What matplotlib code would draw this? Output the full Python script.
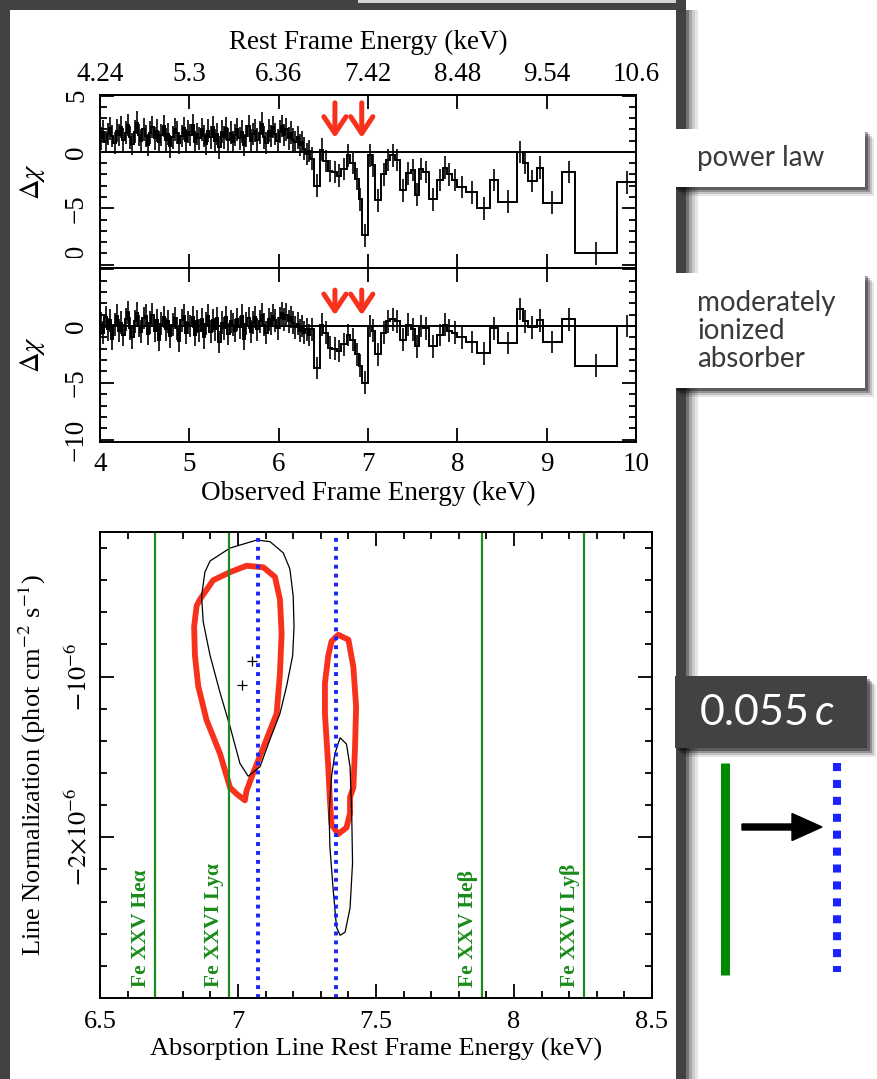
import numpy as np
import matplotlib.pyplot as plt
from matplotlib.patches import Rectangle
from matplotlib.lines import Line2D
from matplotlib.ticker import MultipleLocator
from matplotlib.transforms import Bbox, TransformedBbox

# ============================================================
# Daten
# ============================================================

# obere Achse: Ruhesystem-Energie an den beobachteten Energien 4..10 keV
OBS_TICKS = [4, 5, 6, 7, 8, 9, 10]
REST_TICK_LABELS = ["4.24", "5.3", "6.36", "7.42", "8.48", "9.54", "10.6"]

# feine Bins 4.0 - 6.35 keV (Residuen Delta chi)
DENSE_START, DENSE_END = 4.0, 6.35
PL_DENSE = [
    1.2, 1.8, 0.9, 1.6, 2.1, 1.4, 0.8, 1.9, 1.5, 2.2,
    1.1, 1.7, 2.4, 1.3, 0.7, 1.8, 2.6, 1.5, 1.0, 2.0,
    1.4, 0.6, 1.7, 2.2, 1.2, 1.9, 0.9, 1.5, 2.3, 1.1,
    1.6, 0.5, 1.3, 2.0, 1.7, 0.8, 1.4, 2.1, 1.0, 1.8,
    1.5, 2.4, 0.9, 1.6, 1.2, 2.0, 1.4, 0.7, 1.9, 1.3,
    2.2, 1.0, 1.6, 0.4, 1.8, 1.3, 2.1, 1.1, 1.7, 0.9,
    1.5, 2.0, 1.2, 1.8, 0.6, 1.4, 2.3, 1.0, 1.6, 1.9,
    1.1, 1.7, 2.5, 1.3, 0.8, 1.9, 1.4, 2.2, 1.6, 1.0,
    1.8, 2.3, 1.5, 2.0, 1.2, 1.7, 1.1, 0.9, 1.3, 0.6,
    0.9, 0.3, -0.2, 0.1,
]
MIA_DENSE = [
    0.2, -0.6, 0.8, -0.3, 0.5, -1.1, 0.1, 0.9, -0.4, 0.3,
    -0.8, 0.6, 1.2, -0.2, -1.0, 0.4, 1.1, 0.0, -0.5, 0.7,
    0.9, -0.7, 0.3, 1.0, -0.4, 0.5, -1.2, 0.2, 0.8, -0.3,
    0.4, -0.9, 0.1, 0.7, -0.2, -1.3, 0.5, 0.9, -0.6, 0.3,
    0.0, 0.8, -0.8, 0.4, -0.4, 0.6, -1.0, 0.2, 0.9, -0.5,
    0.5, -0.3, 0.7, -1.4, 0.3, -0.2, 0.8, -0.7, 0.4, 0.1,
    -0.4, 0.6, -0.1, 0.9, -1.1, 0.2, 0.7, -0.5, 0.3, 0.8,
    -0.3, 0.4, 1.0, 0.1, -0.6, 0.6, 0.2, 0.9, 0.5, -0.2,
    0.7, 1.1, 0.6, 1.0, 0.4, 0.8, 0.3, -0.1, 0.2, -0.4,
    0.0, -0.6, -0.3, -0.8,
]

# grobe Bins ab 6.35 keV
COARSE_EDGES = [6.35, 6.40, 6.46, 6.50, 6.55, 6.60, 6.65, 6.70, 6.76, 6.80,
                6.86, 6.90, 6.93, 7.00, 7.04, 7.08, 7.15, 7.20, 7.25, 7.30,
                7.36, 7.42, 7.48, 7.53, 7.57, 7.62, 7.68, 7.77, 7.84, 7.88,
                7.94, 8.00, 8.10, 8.22, 8.37, 8.46, 8.67, 8.73, 8.79, 8.89,
                8.96, 9.17, 9.32, 9.79, 10.0]
PL_COARSE = [-0.6, -3.0, 0.2, -0.8, -1.7, -1.8, -2.1, -1.5, -0.3, -1.0,
             -2.4, -4.2, -7.4, -0.3, -1.2, -4.3, -2.0, -0.7, -0.3, -0.7,
             -3.4, -1.9, -1.6, -3.8, -1.5, -1.8, -4.2, -2.5, -1.4, -2.0,
             -2.5, -3.1, -3.6, -5.0, -2.5, -4.4, 0.0, -1.0, -2.6, -1.4,
             -4.5, -1.8, -9.0, -2.7]
MIA_COARSE = [-0.3, -3.7, 0.1, -0.6, -1.9, -2.0, -2.2, -1.6, -0.8, -1.2,
              -2.5, -3.5, -5.0, 0.0, -0.4, -2.5, -0.6, 0.4, 0.6, 0.4,
              -1.2, 0.1, -0.3, -1.8, 0.0, -0.2, -1.8, -0.8, 0.1, -0.4,
              -0.6, -1.0, -1.4, -2.4, -0.2, -1.5, 1.5, 0.4, -0.1, 0.5,
              -1.4, 0.6, -3.5, 0.0]
DCHI_ERR = 1.0   # Delta chi -> Fehler ist per Definition 1

# rote Pfeile (beobachtete Energie), Spitze / Ende in Delta chi
ARROW_E = [6.63, 6.93]
ARROW_PL = (1.0, 4.6)
ARROW_MIA = (0.7, 3.4)

# unteres Panel: Linien-Normierung in Einheiten von 1e-6
LINE_E = [6.700, 6.966, 7.884, 8.253]
LINE_NAMES = ["Fe XXV Heα", "Fe XXVI Lyα", "Fe XXV Heβ", "Fe XXVI Lyβ"]
SHIFTED_E = [7.073, 7.356]

BLK1_E = [6.899, 6.971, 7.068, 7.116, 7.164, 7.188, 7.200, 7.203, 7.198, 7.176,
          7.152, 7.116, 7.080, 7.037, 7.007, 6.971, 6.935, 6.899, 6.874, 6.868, 6.880]
BLK1_N = [-0.28, -0.20, -0.15, -0.16, -0.23, -0.33, -0.50, -0.69, -0.87, -1.06,
          -1.23, -1.39, -1.56, -1.62, -1.54, -1.31, -1.10, -0.87, -0.66, -0.50, -0.35]

RED1_E = [6.862, 6.910, 6.971, 7.031, 7.092, 7.134, 7.152, 7.158, 7.152, 7.140,
          7.092, 7.055, 7.031, 7.025, 6.995, 6.971, 6.935, 6.886, 6.856, 6.844,
          6.841, 6.850]
RED1_N = [-0.52, -0.40, -0.35, -0.31, -0.32, -0.38, -0.52, -0.73, -0.98, -1.23,
          -1.44, -1.60, -1.71, -1.77, -1.73, -1.69, -1.48, -1.27, -1.06, -0.87,
          -0.69, -0.56]

RED2_E = [7.363, 7.400, 7.418, 7.428, 7.424, 7.418, 7.406, 7.406, 7.393, 7.363,
          7.339, 7.333, 7.327, 7.315, 7.315, 7.327, 7.339]
RED2_N = [-0.74, -0.77, -0.94, -1.19, -1.44, -1.69, -1.75, -1.85, -1.94, -1.98,
          -1.92, -1.77, -1.56, -1.23, -1.04, -0.87, -0.78]

BLK2_E = [7.370, 7.393, 7.406, 7.412, 7.415, 7.406, 7.388, 7.370, 7.357, 7.345,
          7.333, 7.330, 7.339, 7.351]
BLK2_N = [-1.38, -1.42, -1.56, -1.85, -2.16, -2.44, -2.59, -2.61, -2.56, -2.33,
          -2.06, -1.85, -1.62, -1.48]

BEST_E = [7.049, 7.015]
BEST_N = [-0.90, -1.05]

# ============================================================
# Stil
# ============================================================
W, H = 877, 1079
DPI = 100
plt.rcParams["font.family"] = ["Liberation Serif", "DejaVu Serif"]
plt.rcParams["mathtext.fontset"] = "stix"
plt.rcParams["axes.linewidth"] = 1.4

FS = 19.5      # obere Panels
FS3 = 19       # unteres Panel
RED = "#f8311c"
GREEN = "#1a8c1a"
BLUE = "#1a22ff"
DARK = "#424242"


def fig_rect(px0, py0, px1, py1):
    """Pixel (oben links) -> Figure-Koordinaten [l, b, w, h]."""
    return [px0 / W, 1 - py1 / H, (px1 - px0) / W, (py1 - py0) / H]


def style_ticks(ax, fs):
    ax.tick_params(which="both", direction="in", top=True, right=True,
                   width=1.3, labelsize=fs)
    ax.tick_params(which="major", length=10)
    ax.tick_params(which="minor", length=5)
    ax.tick_params(axis="x", which="major", pad=7)
    ax.tick_params(axis="y", which="major", pad=8)


def plot_resid(ax, dense, coarse):
    dense_edges = np.linspace(DENSE_START, DENSE_END, len(dense) + 1)
    edges = np.concatenate([dense_edges, COARSE_EDGES[1:]])
    vals = np.array(dense + coarse)
    centers = 0.5 * (edges[:-1] + edges[1:])
    ax.stairs(vals, edges, baseline=None, color="k", lw=1.4)
    ax.errorbar(centers, vals, yerr=DCHI_ERR, fmt="none", ecolor="k", elinewidth=1.2)
    ax.axhline(0, color="k", lw=1.4)


fig = plt.figure(figsize=(W / DPI, H / DPI), dpi=DPI)

# ---------------- Panel 1: power law ----------------
ax1 = fig.add_axes(fig_rect(100, 95, 636, 268))
plot_resid(ax1, PL_DENSE, PL_COARSE)
ax1.set_xlim(4, 10)
ax1.set_ylim(-10.3, 5.05)
ax1.set_xticks(OBS_TICKS)
ax1.set_yticks([-10, -5, 0, 5], labels=["−10", "−5", "0", "5"])
ax1.yaxis.set_minor_locator(MultipleLocator(1))
style_ticks(ax1, FS)
ax1.tick_params(labelbottom=False, top=False)
for lab in ax1.get_yticklabels():
    lab.set_rotation(90)
    lab.set_va("center")
ax1.set_ylabel(r"$\Delta\chi$", fontsize=FS + 1, labelpad=12)

# obere Achse: Ruhesystem
sec = ax1.secondary_xaxis("top")
sec.set_xticks(OBS_TICKS, labels=REST_TICK_LABELS)
sec.tick_params(direction="in", length=10, width=1.3, labelsize=FS, pad=6)
sec.set_xlabel("Rest Frame Energy (keV)", fontsize=FS, labelpad=9)

# ---------------- Panel 2: moderately ionized absorber ----------------
ax2 = fig.add_axes(fig_rect(100, 268, 636, 442))
plot_resid(ax2, MIA_DENSE, MIA_COARSE)
ax2.set_xlim(4, 10)
ax2.set_ylim(-10.2, 5.1)
ax2.set_xticks(OBS_TICKS)
ax2.set_yticks([-10, -5, 0, 5], labels=["−10", "−5", "0", ""])
ax2.yaxis.set_minor_locator(MultipleLocator(1))
style_ticks(ax2, FS)
for lab in ax2.get_yticklabels():
    lab.set_rotation(90)
    lab.set_va("center")
ax2.set_ylabel(r"$\Delta\chi$", fontsize=FS + 1, labelpad=12)
ax2.set_xlabel("Observed Frame Energy (keV)", fontsize=FS, labelpad=3)

# unteren Teil des "-10" im oberen Panel abschneiden (wie im Original)
clip = TransformedBbox(Bbox([[0, 1 - 258 / H], [1, 1]]), fig.transFigure)
for t in ax1.yaxis.get_major_ticks():
    t.label1.set_clip_on(True)
    t.label1.set_clip_box(clip)

# rote Pfeile
for ax, (tip, tail) in [(ax1, ARROW_PL), (ax2, ARROW_MIA)]:
    for e in ARROW_E:
        ax.annotate("", xy=(e, tip), xytext=(e, tail),
                    arrowprops=dict(arrowstyle="->,head_length=0.6,head_width=0.4",
                                    color=RED, lw=3.6, mutation_scale=20))

# ---------------- Panel 3: Konturen ----------------
ax3 = fig.add_axes(fig_rect(100, 532, 652, 998))
for e, name in zip(LINE_E, LINE_NAMES):
    ax3.axvline(e, color=GREEN, lw=1.6)
    ax3.annotate(name, xy=(e, -3.0), xytext=(-3, 8), textcoords="offset points",
                 rotation=90, ha="right", va="bottom", color=GREEN,
                 fontsize=15.5, fontweight="bold")
for e in SHIFTED_E:
    ax3.axvline(e, color=BLUE, lw=2.8, linestyle=(0, (1, 1.3)))

ax3.fill(RED1_E, RED1_N, facecolor="none", edgecolor=RED, lw=4.2, joinstyle="round")
ax3.fill(RED2_E, RED2_N, facecolor="none", edgecolor=RED, lw=4.2, joinstyle="round")
ax3.fill(BLK1_E, BLK1_N, facecolor="none", edgecolor="k", lw=0.9)
ax3.fill(BLK2_E, BLK2_N, facecolor="none", edgecolor="k", lw=0.9)
ax3.plot(BEST_E, BEST_N, "k+", ms=7, mew=0.9)

ax3.set_xlim(6.5, 8.5)
ax3.set_ylim(-3.0, -0.1)
ax3.set_xticks([6.5, 7, 7.5, 8, 8.5], labels=["6.5", "7", "7.5", "8", "8.5"])
ax3.xaxis.set_minor_locator(MultipleLocator(0.1))
ax3.set_yticks([-2, -1], labels=[r"$-2{\times}10^{-6}$", r"$-10^{-6}$"])
ax3.yaxis.set_minor_locator(MultipleLocator(0.2))
style_ticks(ax3, FS3)
ax3.tick_params(axis="x", which="major", pad=9)
ax3.tick_params(axis="y", which="major", pad=6)
for lab in ax3.get_yticklabels():
    lab.set_rotation(90)
    lab.set_va("center")
ax3.set_xlabel("Absorption Line Rest Frame Energy (keV)", fontsize=FS3, labelpad=4)
ax3.set_ylabel(r"Line Normalization (phot cm$^{-2}$ s$^{-1}$)", fontsize=FS3, labelpad=12)

# ============================================================
# Folien-Rahmen und Beschriftungen rechts (Pixel-Koordinaten)
# ============================================================
ov = fig.add_axes([0, 0, 1, 1], zorder=10)
ov.set_xlim(0, W)
ov.set_ylim(H, 0)
ov.axis("off")


def box(x0, y0, x1, y1, color, shadow=True):
    if shadow:
        for k, a in [(9, 0.10), (7, 0.15), (5, 0.25), (3, 0.35)]:
            ov.add_patch(Rectangle((x0 + k, y0 + k), x1 - x0, y1 - y0,
                                   facecolor="k", edgecolor="none", alpha=a))
    ov.add_patch(Rectangle((x0, y0), x1 - x0, y1 - y0, facecolor=color, edgecolor="none"))


# dunkler Rahmen
ov.add_patch(Rectangle((0, 0), 10, H, facecolor=DARK, edgecolor="none"))
ov.add_patch(Rectangle((0, 0), 358, 10, facecolor=DARK, edgecolor="none"))
ov.add_patch(Rectangle((358, 0), 328, 3, facecolor="#d4d4d4", edgecolor="none"))
ov.add_patch(Rectangle((358, 3), 328, 7, facecolor=DARK, edgecolor="none"))
for k, a in [(0, 0.55), (3, 0.35), (6, 0.2), (9, 0.1)]:
    ov.add_patch(Rectangle((686 + k, 10), 3, H, facecolor="k", edgecolor="none", alpha=a))
ov.add_patch(Rectangle((676, 0), 10, H, facecolor=DARK, edgecolor="none"))

# Textboxen
box(673, 129, 865, 187, "white")
ov.text(697, 158, "power law", fontsize=20, family="Lato", color="#3a3a3a",
        ha="left", va="center")
box(673, 273, 865, 388, "white")
ov.text(697, 331, "moderately\nionized\nabsorber", fontsize=20, family="Lato",
        color="#3a3a3a", ha="left", va="center", linespacing=1.1)
box(675, 676, 867, 748, DARK)
ov.text(700, 713, "0.055", fontsize=31, family="Lato",
        color="white", ha="left", va="center")
ov.text(815, 713, "c", fontsize=31, family="Lato",
        style="italic", color="white", ha="left", va="center")

# Legende: Ruhe-Linie -> verschobene Linie
ov.add_line(Line2D([725, 725], [763, 975], color="#008a00", lw=6.5,
                   solid_capstyle="butt"))
ov.add_line(Line2D([837, 837], [763, 972], color=BLUE, lw=5.8,
                   linestyle=(0, (1, 1.1)), dash_capstyle="butt"))
ov.arrow(742, 827, 80, 0, width=6, head_width=27, head_length=30,
         length_includes_head=True, color="k")

fig.savefig("out.png", dpi=DPI)
